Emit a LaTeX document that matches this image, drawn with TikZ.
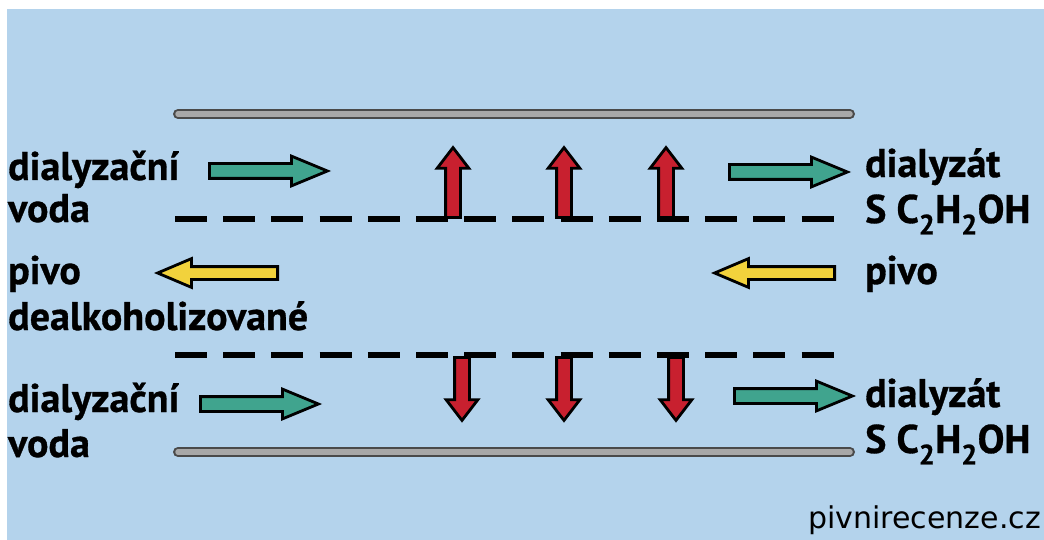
\documentclass[tikz,border=0pt]{standalone}
\usepackage{fontspec}
\usepackage{xcolor}
\usepackage{tikz}
\usetikzlibrary{shapes.arrows, positioning}
\newfontfamily\labelfont{PT Sans}[BoldFeatures={FakeBold=0.8}]
\newfontfamily\markfont{DejaVu Sans}
\definecolor{skyback}{HTML}{B4D3EC}
\definecolor{waterteal}{HTML}{40A48E}
\definecolor{beeryellow}{HTML}{F2D23C}
\definecolor{alcred}{HTML}{C8202F}
\definecolor{wallgrey}{HTML}{A8A8A8}
\definecolor{walledge}{HTML}{4A4A4A}
\tikzstyle{label} = [anchor=base west, inner sep=0pt, font=\labelfont\bfseries\fontsize{40}{44}\selectfont]
\tikzstyle{flow} = [single arrow, draw=black, line width=2.8pt, inner xsep=0pt, single arrow head indent=0pt, anchor=tail]
\tikzstyle{water} = [flow, fill=waterteal, inner ysep=6pt, single arrow head extend=7.5pt, single arrow tip angle=45, minimum height=118pt]
\tikzstyle{beer} = [flow, fill=beeryellow, inner ysep=5pt, single arrow head extend=8pt, single arrow tip angle=46, minimum height=120pt, rotate=180]
\tikzstyle{alcohol} = [flow, fill=alcred, inner ysep=6pt, single arrow head extend=8.5pt, single arrow tip angle=75]
\tikzstyle{membrane} = [line width=6pt, dash pattern=on 32pt off 16.2pt]

\begin{document}
\begin{tikzpicture}[x=1pt, y=-1pt]
    % background
    \fill[white] (0,0) rectangle (1044,540);
    \fill[skyback] (7,9) rectangle (1044,540);
    \useasboundingbox (0,0) rectangle (1044,540);

    % walls of the channel
    \foreach \y in {114, 452} {
        \draw[walledge, line width=10pt, line cap=round] (178,\y) -- (850,\y);
        \draw[wallgrey, line width=5.5pt, line cap=round] (178,\y) -- (850,\y);
    }

    % membranes
    \draw[membrane] (175,219) -- (840,219);
    \draw[membrane] (175,355) -- (840,355);

    % alcohol through the membranes
    \node (up1) [alcohol, minimum height=70pt, rotate=90] at (453,219) {};
    \node (up2) [alcohol, minimum height=70pt, rotate=90] at (564,219) {};
    \node (up3) [alcohol, minimum height=70pt, rotate=90] at (666,219) {};
    \node (down1) [alcohol, minimum height=63pt, rotate=-90] at (462,356) {};
    \node (down2) [alcohol, minimum height=63pt, rotate=-90] at (564,356) {};
    \node (down3) [alcohol, minimum height=63pt, rotate=-90] at (676,356) {};

    % flows
    \node (waterin1) [water] at (208,171) {};
    \node (waterout1) [water] at (728,172) {};
    \node (waterin2) [water] at (199,404) {};
    \node (waterout2) [water] at (733,396) {};
    \node (beerout) [beer] at (279,273) {};
    \node (beerin) [beer] at (836,273) {};

    % texts
    \node (dial1) [label] at (8,180) {dialyzační};
    \node (voda1) [label] at (8,222) {voda};
    \node (pivoout) [label] at (8,284) {pivo};
    \node (dealk) [label] at (8,330) {dealkoholizované};
    \node (dial2) [label] at (8,412) {dialyzační};
    \node (voda2) [label] at (8,457) {voda};
    \node (dialyzat1) [label] at (865,177) {dialyzát};
    \node (ethanol1) [label] at (865,223) {S C\textsubscript{2}H\textsubscript{2}OH};
    \node (pivoin) [label] at (865,284) {pivo};
    \node (dialyzat2) [label] at (865,407) {dialyzát};
    \node (ethanol2) [label] at (865,453) {S C\textsubscript{2}H\textsubscript{2}OH};
    \node (site) [anchor=base east, inner sep=0pt, font=\markfont\fontsize{30}{34}\selectfont] at (1041,528) {pivnirecenze.cz};
\end{tikzpicture}
\end{document}
